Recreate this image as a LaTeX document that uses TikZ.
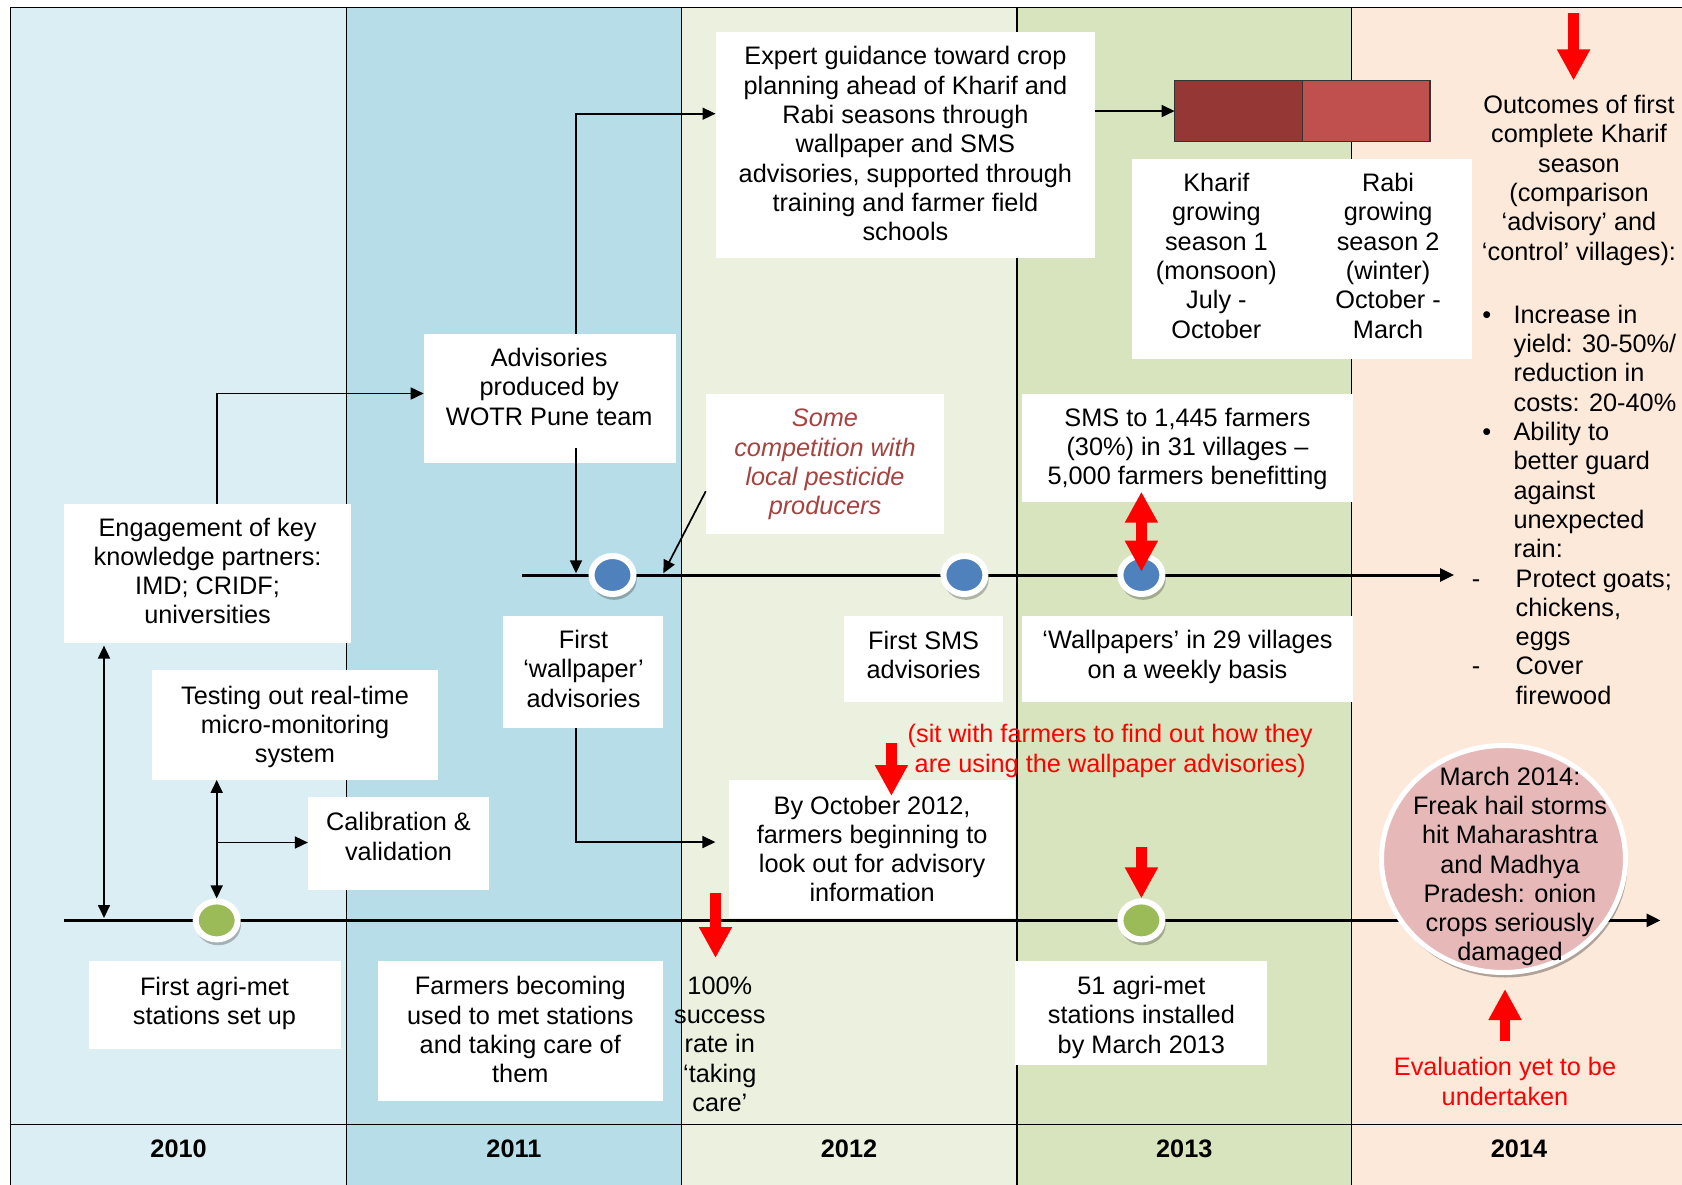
\documentclass[tikz,border=0pt]{standalone}
\usepackage{fontspec}
\setmainfont{Liberation Sans}
\usetikzlibrary{arrows.meta,calc,fit,shadows,shapes.geometric}

\definecolor{band2010}{HTML}{DBEEF3}
\definecolor{band2011}{HTML}{B7DEE8}
\definecolor{band2012}{HTML}{EBF1DE}
\definecolor{band2013}{HTML}{D7E4BD}
\definecolor{band2014}{HTML}{FDE9D9}
\definecolor{metgreen}{HTML}{9BBB59}
\definecolor{advblue}{HTML}{4F81BD}
\definecolor{kharifred}{HTML}{953735}
\definecolor{rabired}{HTML}{C0504D}
\definecolor{hailpink}{HTML}{E6B9B8}
\definecolor{flagred}{HTML}{FF0000}
\definecolor{pestbrown}{HTML}{A4433F}

\newcommand{\tlfont}{\fontsize{25.3}{29.3}\selectfont}

\begin{document}
\begin{tikzpicture}[x=1pt, y=-1pt,
  every node/.style={font=\tlfont},
  txt/.style={align=center, inner sep=0pt, outer sep=0pt},
  wbox/.style={fill=white, draw=none, inner sep=0pt, outer sep=0pt},
  yearlabel/.style={font=\tlfont\bfseries, inner sep=0pt},
  rule/.style={line width=1.4pt, black},
  conn/.style={line width=1.7pt, -{Triangle[length=13pt,width=12pt]}},
  twoway/.style={line width=1.7pt, {Triangle[length=13pt,width=12pt]}-{Triangle[length=13pt,width=12pt]}},
  timeline/.style={line width=3pt, -{Triangle[length=14pt,width=13pt]}},
  flag/.style={flagred, line width=10.5pt, -{Triangle[length=31pt,width=31pt]}},
  flagboth/.style={flagred, line width=10.5pt, {Triangle[length=31pt,width=31pt]}-{Triangle[length=31pt,width=31pt]}},
  milestone/.style={ellipse, inner sep=0pt, minimum width=42pt, minimum height=38pt,
    draw=white, line width=6pt,
    drop shadow={shadow xshift=1.5pt, shadow yshift=-4pt, shadow scale=1.08, fill=black, opacity=0.25}},
  seasonbar/.style={draw=black!80, line width=1.3pt, inner sep=0pt, outer sep=0pt},
]
\useasboundingbox (0,0) rectangle (1682,1185);

% year bands
\fill[band2010] (10.7,7.5) rectangle (346.5,1185);
\fill[band2011] (346.5,7.5) rectangle (681.2,1185);
\fill[band2012] (681.2,7.5) rectangle (1016.9,1185);
\fill[band2013] (1016.9,7.5) rectangle (1351.6,1185);
\fill[band2014] (1351.6,7.5) rectangle (1682,1185);

% frame, year dividers and year row
\draw[rule] (10.7,1185) -- (10.7,7.5) -- (1682,7.5);
\draw[rule] (10.7,1124.2) -- (1682,1124.2);
\foreach \x in {346.5,681.2,1016.9,1351.6} \draw[rule] (\x,7.5) -- (\x,1185);

\node[yearlabel] (y2010) at (178.6,1148.9) {2010};
\node[yearlabel] (y2011) at (513.9,1148.9) {2011};
\node[yearlabel] (y2012) at (849,1148.9) {2012};
\node[yearlabel] (y2013) at (1184.3,1148.9) {2013};
\node[yearlabel] (y2014) at (1519,1148.9) {2014};

% white text boxes
\node[wbox, fit={(715.5,32.2) (1095.2,258.5)}] (expert) {};
\node[wbox, fit={(1131.7,158.8) (1471.7,359.4)}] (season) {};
\node[wbox, fit={(423.7,333.6) (675.8,463.4)}] (adv) {};
\node[wbox, fit={(64.4,504.2) (350.8,642.6)}] (engage) {};
\node[wbox, fit={(152.3,670.4) (437.7,779.9)}] (testing) {};
\node[wbox, fit={(307.9,797) (489.2,890.4)}] (calib) {};
\node[wbox, fit={(503.1,615.7) (662.9,728.4)}] (wall1) {};
\node[wbox, fit={(705.8,393.7) (944,534.2)}] (comp) {};
\node[wbox, fit={(1022.3,393.7) (1353,502)}] (sms) {};
\node[wbox, fit={(844.2,615.7) (1003,701.5)}] (firstsms) {};
\node[wbox, fit={(1022.3,615.7) (1353,701.5)}] (wallweekly) {};
\node[wbox, fit={(729.4,779.9) (1015,918.2)}] (oct) {};
\node[wbox, fit={(89,961.1) (341.1,1049.1)}] (agrimet) {};
\node[wbox, fit={(377.6,961.1) (662.9,1100.6)}] (farmers) {};
\node[wbox, fit={(1014.8,961.1) (1266.9,1065.2)}] (agri51) {};

% season bars
\node[seasonbar, fill=kharifred, fit={(1174.6,80.5) (1302.3,141.6)}] (kbar) {};
\node[seasonbar, fill=rabired, fit={(1302.3,80.5) (1429.9,141.6)}] (rbar) {};

% box texts
\node[txt] (expert-text) at (905.4,143.7) {Expert guidance toward crop\\planning ahead of Kharif and\\Rabi seasons through\\wallpaper and SMS\\advisories, supported through\\training and farmer field\\schools};
\node[txt] (kharif-text) at (1216.4,255.8) {Kharif\\growing\\season 1\\(monsoon)\\July -\\October};
\node[txt] (rabi-text) at (1388.1,255.8) {Rabi\\growing\\season 2\\(winter)\\October -\\March};
\node[txt] (adv-text) at (549.2,386.7) {Advisories\\produced by\\WOTR Pune team};
\node[txt] (engage-text) at (207.6,571) {Engagement of key\\knowledge partners:\\IMD; CRIDF;\\universities};
\node[txt] (testing-text) at (295,726.8) {Testing out real-time\\micro-monitoring\\system};
\node[txt] (calib-text) at (398.5,836.6) {Calibration \&\\validation};
\node[txt] (wall1-text) at (583.5,668.8) {First\\‘wallpaper’\\advisories};
\node[txt, font=\tlfont\itshape, text=pestbrown] (comp-text) at (825,464.5) {Some\\competition with\\local pesticide\\producers};
\node[txt] (sms-text) at (1187.5,449) {SMS to 1,445 farmers\\(30\%) in 31 villages –\\5,000 farmers benefitting};
\node[txt] (firstsms-text) at (923.6,655.3) {First SMS\\advisories};
\node[txt] (wallweekly-text) at (1187.5,657) {‘Wallpapers’ in 29 villages\\on a weekly basis};
\node[txt] (oct-text) at (872.1,849) {By October 2012,\\farmers beginning to\\look out for advisory\\information};
\node[txt] (agrimet-text) at (214.5,1003.5) {First agri-met\\stations set up};
\node[txt] (farmers-text) at (520.3,1029.7) {Farmers becoming\\used to met stations\\and taking care of\\them};
\node[txt] (agri51-text) at (1141.4,1017.4) {51 agri-met\\stations installed\\by March 2013};

% free-standing notes
\node[txt] (pct-text) at (719.8,1044.2) {100\%\\success\\rate in\\‘taking\\care’};
\node[txt, text=flagred] (sit-text) at (1110.2,751) {(sit with farmers to find out how they\\are using the wallpaper advisories)};
\node[txt, text=flagred] (eval-text) at (1505,1081.5) {Evaluation yet to be\\undertaken};
\node[txt] (outcome-head) at (1579,180.3) {Outcomes of first\\complete Kharif\\season\\(comparison\\‘advisory’ and\\‘control’ villages):};
\node[txt, align=left, anchor=west] (outcome-list) at (1470,504.8) {%
\makebox[43.6pt][l]{\hspace*{12.3pt}\textbullet}Increase in\\
\hspace*{43.6pt}yield: 30-50\%/\\
\hspace*{43.6pt}reduction in\\
\hspace*{43.6pt}costs: 20-40\%\\
\makebox[43.6pt][l]{\hspace*{12.3pt}\textbullet}Ability to\\
\hspace*{43.6pt}better guard\\
\hspace*{43.6pt}against\\
\hspace*{43.6pt}unexpected\\
\hspace*{43.6pt}rain:\\
\makebox[45.7pt][l]{\hspace*{1.8pt}-}Protect goats;\\
\hspace*{45.7pt}chickens,\\
\hspace*{45.7pt}eggs\\
\makebox[45.7pt][l]{\hspace*{1.8pt}-}Cover\\
\hspace*{45.7pt}firewood};

% the two time axes
\coordinate (metaxis-start) at (64.4,920.4);
\coordinate (metaxis-end) at (1660.5,920.4);
\coordinate (advaxis-start) at (522.4,575);
\coordinate (advaxis-end) at (1454,575);
\draw[timeline] (metaxis-start) -- (metaxis-end);
\draw[timeline] (advaxis-start) -- (advaxis-end);

% milestones
\node[milestone, fill=metgreen] (g1) at (216.7,920.4) {};
\node[milestone, fill=metgreen] (g2) at (1141.4,920.4) {};
\node[milestone, fill=advblue] (b1) at (612.5,575) {};
\node[milestone, fill=advblue] (b2) at (964.4,575) {};
\node[milestone, fill=advblue] (b3) at (1141.4,575) {};

% black connectors
\coordinate (advbend) at (576,113.7);
\coordinate (advfoot) at (576,573.3);
\coordinate (compfoot) at (663.3,573.3);
\coordinate (keyfoot) at (104,918);
\coordinate (calbranch) at (216.7,842.5);
\draw[conn] (engage.north -| g1) |- ($(adv.west)+(0,-5)$);
\draw[conn] (adv.north -| advbend) |- (expert.west |- advbend);
\draw[conn] (expert.east |- kbar.west) -- (kbar.west);
\draw[conn] ($(adv.south -| advfoot)+(0,-15)$) -- (advfoot);
\draw[conn] ($(comp.south west)+(0,-43)$) -- (compfoot);
\draw[conn] (wall1.south -| advfoot) |- ($(oct.west)+(-14,-7)$);
\draw[twoway] ($(engage.south -| keyfoot)+(0,3)$) -- (keyfoot);
\draw[twoway] (testing.south -| g1) -- (g1.north);
\draw[conn] (calbranch) -- (calib.west |- calbranch);

% hail storm event
\node[ellipse, fill=hailpink, draw=white, line width=5pt, minimum width=244pt, minimum height=227pt,
  inner sep=0pt, drop shadow={shadow xshift=2pt, shadow yshift=-5pt, fill=black, opacity=0.3}] (hail) at (1503.5,859) {};
\node[txt] (hail-text) at (1510,866.5) {March 2014:\\Freak hail storms\\hit Maharashtra\\and Madhya\\Pradesh: onion\\crops seriously\\damaged};

% red markers
\coordinate (outflag-tail) at (1573.6,12.9);
\coordinate (outflag-tip) at (1573.6,80.5);
\coordinate (sitflag-tail) at (891.4,743.4);
\coordinate (sitflag-tip) at (891.4,796);
\coordinate (pctflag-tail) at (715.5,892.5);
\coordinate (pctflag-tip) at (715.5,958);
\coordinate (metflag-tail) at (1141.4,847.3);
\coordinate (evalflag-tail) at (1505,1040.5);
\coordinate (evalflag-tip) at (1505,989);
\coordinate (smsflag-top) at (1141.4,491.7);
\coordinate (smsflag-bottom) at (1141.4,571.7);
\draw[flag] (outflag-tail) -- (outflag-tip);
\draw[flag] (sitflag-tail) -- (sitflag-tip);
\draw[flag] (pctflag-tail) -- (pctflag-tip);
\draw[flag] (metflag-tail) -- (g2.north);
\draw[flag] (evalflag-tail) -- (evalflag-tip);
\draw[flagboth] (smsflag-top) -- (smsflag-bottom);
\end{tikzpicture}
\end{document}
